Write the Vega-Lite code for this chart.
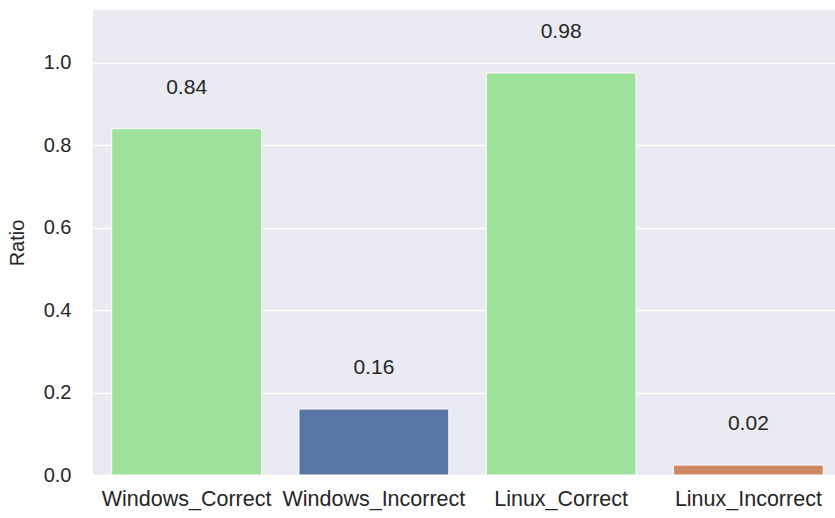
{
  "$schema": "https://vega.github.io/schema/vega-lite/v6.json",
  "width": 749,
  "height": 465,
  "autosize": {"type": "none"},
  "padding": {"left": 93, "top": 10, "right": 0, "bottom": 43},
  "background": "white",
  "config": {
    "view": {"fill": "#eaeaf2", "stroke": null},
    "font": "Liberation Sans",
    "axis": {"labelFont": "Liberation Sans", "titleFont": "Liberation Sans", "labelColor": "#262626", "titleColor": "#262626", "labelFontSize": 20, "titleFontSize": 20, "titleFontWeight": "normal", "domain": false, "ticks": false, "gridColor": "white", "gridWidth": 1.5}
  },
  "data": {"values": [
    {"category": "Windows_Correct", "ratio": 0.84, "label": "0.84", "group": "correct"},
    {"category": "Windows_Incorrect", "ratio": 0.16, "label": "0.16", "group": "win_incorrect"},
    {"category": "Linux_Correct", "ratio": 0.975, "label": "0.98", "group": "correct"},
    {"category": "Linux_Incorrect", "ratio": 0.024, "label": "0.02", "group": "lin_incorrect"}
  ]},
  "encoding": {
    "x": {"field": "category", "type": "nominal", "sort": null, "title": null,
      "scale": {"paddingInner": 0.2, "paddingOuter": 0.1},
      "axis": {"labelAngle": 0, "labelPadding": 13, "grid": false, "labelFontSize": 21.5, "labelLimit": 0, "labelOverlap": false, "labelFlush": false}},
    "y": {"field": "ratio", "type": "quantitative", "title": "Ratio",
      "scale": {"domain": [0, 1.128], "nice": false},
      "axis": {"values": [0, 0.2, 0.4, 0.6, 0.8, 1.0], "format": ".1f", "labelPadding": 22, "titlePadding": 16}}
  },
  "layer": [
    {"mark": {"type": "bar", "stroke": "white", "strokeWidth": 1},
     "encoding": {"color": {"field": "group", "type": "nominal", "legend": null,
       "scale": {"domain": ["correct", "win_incorrect", "lin_incorrect"], "range": ["#9de19a", "#5875a4", "#cc8963"]}}}},
    {"mark": {"type": "text", "dy": -41, "fontSize": 21, "color": "#262626", "baseline": "middle"},
     "encoding": {"text": {"field": "label"}}}
  ]
}
